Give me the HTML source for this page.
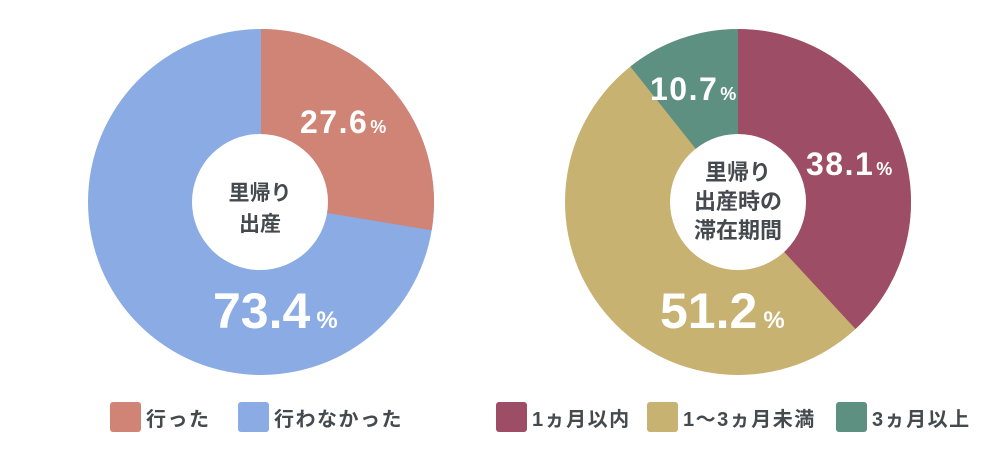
<!DOCTYPE html>
<html><head><meta charset="utf-8"><style>
body{margin:0;background:#fff;width:1000px;height:450px;overflow:hidden;font-family:"Liberation Sans","Noto Sans CJK JP",sans-serif}
.lg{position:absolute;top:402px;height:30px;display:flex;align-items:center;font-weight:bold;font-size:20px;letter-spacing:1.5px;color:#444a4d}
.sq{width:31px;height:30px;border-radius:3px;margin-right:5px}
</style></head><body>
<svg width="1000" height="450" style="position:absolute;left:0;top:0" font-family="Liberation Sans, Noto Sans CJK JP, sans-serif" font-weight="bold">
<circle cx="261" cy="202" r="173" fill="#8aabe3"/>
<path d="M261,202 L261,29 A173,173 0 0 1 431.7,230.3 Z" fill="#cf8475"/>
<circle cx="260" cy="202" r="68" fill="#fff"/>
<text x="260" y="200" text-anchor="middle" font-size="21" fill="#444a4d">里帰り</text>
<text x="260" y="231" text-anchor="middle" font-size="21" fill="#444a4d">出産</text>
<text x="300" y="133" font-size="32" letter-spacing="1.5" fill="#fff">27.6<tspan font-size="18" dx="2" letter-spacing="0">%</tspan></text>
<text x="213" y="328" font-size="50" fill="#fff">73.4<tspan font-size="24" dx="6">%</tspan></text>
<circle cx="738" cy="202" r="173" fill="#c8b271"/>
<path d="M738,202 L738,29 A173,173 0 0 1 855.5,329 Z" fill="#9e4d66"/>
<path d="M738,202 L630.3,66.6 A173,173 0 0 1 738,29 Z" fill="#5e9082"/>
<circle cx="738" cy="202" r="68" fill="#fff"/>
<text x="738" y="180" text-anchor="middle" font-size="22" fill="#444a4d">里帰り</text>
<text x="738" y="209" text-anchor="middle" font-size="22" fill="#444a4d">出産時の</text>
<text x="738" y="238" text-anchor="middle" font-size="22" fill="#444a4d">滞在期間</text>
<text x="650" y="100" font-size="32" letter-spacing="1.5" fill="#fff">10.7<tspan font-size="18" dx="2" letter-spacing="0">%</tspan></text>
<text x="806" y="175" font-size="32" letter-spacing="1.5" fill="#fff">38.1<tspan font-size="18" dx="2" letter-spacing="0">%</tspan></text>
<text x="660" y="328" font-size="50" fill="#fff">51.2<tspan font-size="24" dx="6">%</tspan></text>
</svg>
<div class="lg" style="left:110px"><div class="sq" style="background:#cf8475"></div>行った</div>
<div class="lg" style="left:238px"><div class="sq" style="background:#8aabe3"></div>行わなかった</div>
<div class="lg" style="left:496px"><div class="sq" style="background:#9e4d66"></div>1ヵ月以内</div>
<div class="lg" style="left:647px"><div class="sq" style="background:#c8b271"></div>1〜3ヵ月未満</div>
<div class="lg" style="left:836px"><div class="sq" style="background:#5e9082"></div>3ヵ月以上</div>
</body></html>
